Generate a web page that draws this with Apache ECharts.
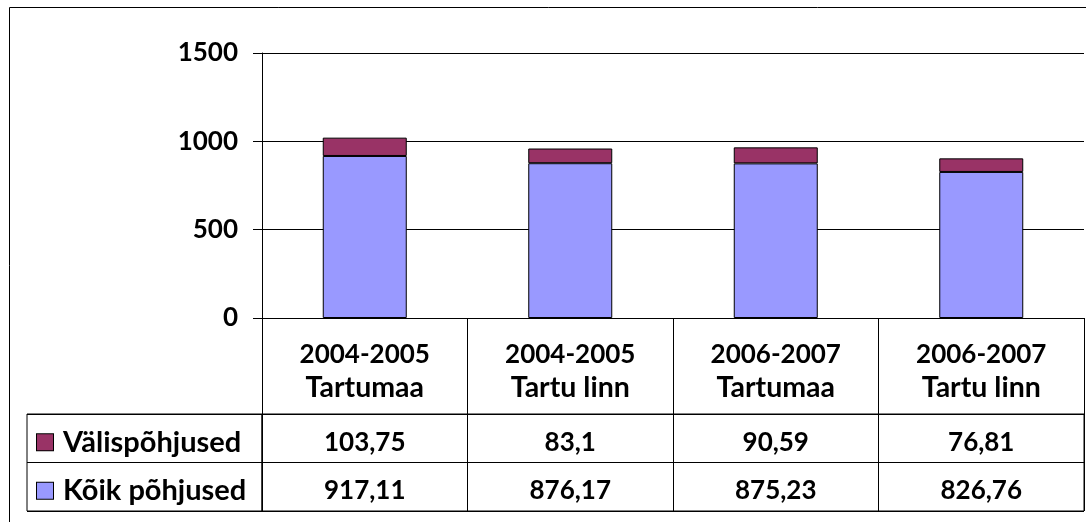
<!DOCTYPE html>
<html>
<head>
<meta charset="utf-8">
<script src="https://cdn.jsdelivr.net/npm/echarts@6/dist/echarts.min.js"></script>
<style>
  html, body { margin: 0; padding: 0; background: #fff; }
  #chart { width: 1086px; height: 522px; }
</style>
</head>
<body>
<div id="chart"></div>
<script>
// ----------------- D A T A ----------------- //
const categories = ['2004-2005\nTartumaa', '2004-2005\nTartu linn', '2006-2007\nTartumaa', '2006-2007\nTartu linn']
const seriesNames = ['Välispõhjused', 'Kõik põhjused']
const valis = [103.75, 83.1, 90.59, 76.81]
const koik = [917.11, 876.17, 875.23, 826.76]
const yTicks = { min: 0, max: 1500, interval: 500 }

const FONT = 'Lato'
const colors = { valis: '#993366', koik: '#9999ff' }

const fmt = (v) => String(v).replace('.', ',')

// table cells (column, row name, value) built from the arrays
const tableCells = []
categories.forEach((c, i) => {
  tableCells.push([c, seriesNames[0], valis[i]])
  tableCells.push([c, seriesNames[1], koik[i]])
})

const chart = echarts.init(document.getElementById('chart'))

const option = {
  animation: false,
  textStyle: { fontFamily: FONT },
  graphic: [
    {
      type: 'rect',
      shape: { x: 9.5, y: 7.5, width: 1200, height: 700 },
      style: { fill: 'none', stroke: '#000', lineWidth: 1 },
      silent: true
    }
  ],
  grid: [
    // plot area
    { left: 262, right: 2, top: 53, height: 265 },
    // value cells of the data table
    { left: 262, right: 2, top: 414, height: 97, show: true, borderColor: '#000', borderWidth: 1 },
    // row-name cells of the data table
    { left: 27, width: 235, top: 414, height: 97, show: true, borderColor: '#000', borderWidth: 1 }
  ],
  xAxis: [
    {
      type: 'category',
      gridIndex: 0,
      data: categories,
      axisLine: { lineStyle: { color: '#000', width: 1 } },
      axisTick: { show: true, length: 96, lineStyle: { color: '#000', width: 1 } },
      axisLabel: {
        interval: 0,
        margin: 20,
        formatter: (v) => {
          const [d, n] = v.split('\n')
          return '{d|' + d + '}\n{n|' + n + '}'
        },
        rich: {
          d: { color: '#000', fontWeight: 'bold', fontSize: 26, lineHeight: 33, fontFamily: FONT },
          n: { color: '#000', fontWeight: 'bold', fontSize: 28.5, lineHeight: 33, fontFamily: FONT }
        }
      }
    },
    {
      type: 'category',
      gridIndex: 1,
      data: categories,
      axisLine: { show: false },
      axisTick: { show: false },
      axisLabel: { show: false },
      splitLine: { show: true, interval: 0, lineStyle: { color: '#000', width: 1 } }
    },
    { type: 'value', gridIndex: 2, min: 0, max: 1, show: false }
  ],
  yAxis: [
    {
      type: 'value',
      gridIndex: 0,
      min: yTicks.min,
      max: yTicks.max,
      interval: yTicks.interval,
      axisLine: { show: true, lineStyle: { color: '#000', width: 1 } },
      axisTick: { show: true, length: 9, lineStyle: { color: '#000', width: 1 } },
      axisLabel: {
        margin: 24,
        color: '#000',
        fontWeight: 'bold',
        fontSize: 26,
        fontFamily: FONT,
        formatter: (v) => String(v)
      },
      splitLine: { show: true, lineStyle: { color: '#000', width: 1 } }
    },
    {
      type: 'category',
      gridIndex: 1,
      inverse: true,
      data: seriesNames,
      axisLine: { show: false },
      axisTick: { show: false },
      axisLabel: { show: false },
      splitLine: { show: true, interval: 0, lineStyle: { color: '#000', width: 1 } }
    },
    {
      type: 'category',
      gridIndex: 2,
      inverse: true,
      data: seriesNames,
      axisLine: { show: false },
      axisTick: { show: false },
      splitLine: { show: true, interval: 0, lineStyle: { color: '#000', width: 1 } },
      axisLabel: {
        inside: true,
        margin: 10,
        align: 'left',
        padding: [8, 0, 0, 0],
        formatter: (v) => (v === seriesNames[0] ? '{a|}' : '{k|}') + '{t|' + v + '}',
        rich: {
          a: { width: 16, height: 16, backgroundColor: colors.valis, borderColor: '#000', borderWidth: 1 },
          k: { width: 16, height: 16, backgroundColor: colors.koik, borderColor: '#000', borderWidth: 1 },
          t: { padding: [0, 0, 0, 10], fontSize: 29, fontWeight: 'bold', color: '#000', fontFamily: FONT }
        }
      }
    }
  ],
  series: [
    {
      name: seriesNames[1],
      type: 'bar',
      stack: 'total',
      barWidth: 84,
      xAxisIndex: 0,
      yAxisIndex: 0,
      itemStyle: { color: colors.koik, borderColor: '#000', borderWidth: 1 },
      data: koik
    },
    {
      name: seriesNames[0],
      type: 'bar',
      stack: 'total',
      barWidth: 84,
      xAxisIndex: 0,
      yAxisIndex: 0,
      itemStyle: { color: colors.valis, borderColor: '#000', borderWidth: 1 },
      data: valis
    },
    {
      name: 'table',
      type: 'scatter',
      xAxisIndex: 1,
      yAxisIndex: 1,
      symbolSize: 0,
      itemStyle: { color: '#fff', opacity: 1 },
      silent: true,
      label: {
        show: true,
        position: 'inside',
        offset: [0, 4],
        color: '#000',
        textBorderWidth: 0,
        fontSize: 26,
        fontWeight: 'bold',
        fontFamily: FONT,
        formatter: (p) => fmt(p.value[2])
      },
      data: tableCells
    }
  ]
}

chart.setOption(option)
</script>
</body>
</html>
